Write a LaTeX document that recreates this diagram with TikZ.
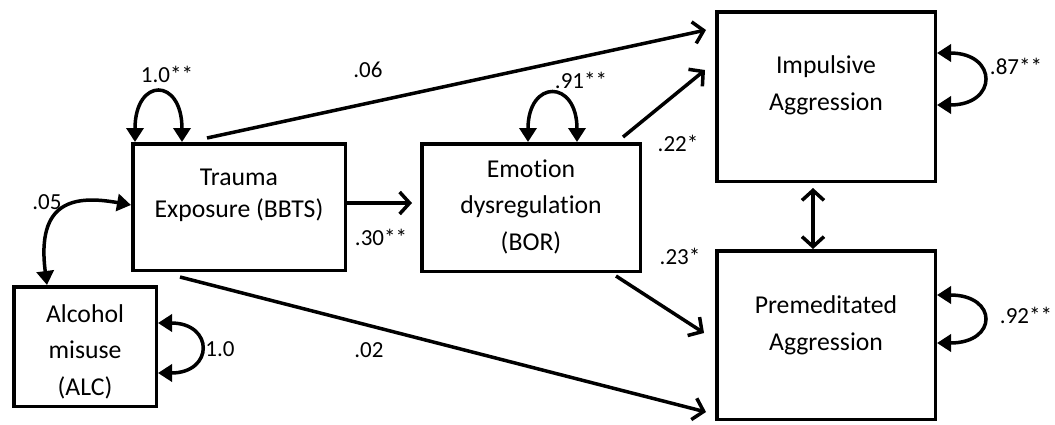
\documentclass[tikz,border=0pt]{standalone}
\usepackage{fontspec}
\setmainfont{Carlito}[Ligatures=NoCommon]
\usetikzlibrary{arrows.meta,calc}
\begin{document}
\begin{tikzpicture}[x=1pt,y=-1pt,
  box/.style={draw=black, line width=3.5pt, inner sep=0pt, rectangle},
  boxtext/.style={align=center, anchor=base, inner sep=0pt, font=\fontsize{25.7}{36.5}\selectfont},
  lab/.style={font=\fontsize{23}{27}\selectfont, inner sep=0pt},
  regarrow/.style={line width=3.5pt, -{Straight Barb[length=10pt,width=22pt]}},
  dblarrow/.style={line width=3.5pt, {Straight Barb[length=10pt,width=22pt]}-{Straight Barb[length=10pt,width=22pt]}},
  covarrow/.style={line width=3.5pt, {Triangle[length=14pt,width=17pt]}-{Triangle[length=14pt,width=17pt]}}
]
\useasboundingbox (0,0) rectangle (1055,424);

% boxes
\node[box, minimum width=212.5pt, minimum height=126.5pt] (trauma) at (239,207) {};
\node[box, minimum width=142.5pt, minimum height=119.5pt] (alcohol) at (85,346.5) {};
\node[box, minimum width=218.5pt, minimum height=127.5pt] (emotion) at (531,207.5) {};
\node[box, minimum width=218.5pt, minimum height=169.5pt] (impulsive) at (826,96.5) {};
\node[box, minimum width=218.5pt, minimum height=168.5pt] (premeditated) at (826,335) {};

% box texts (base anchor = baseline of last line)
\node[boxtext, font=\fontsize{25.7}{32}\selectfont] (traumaT) at (239,217) {Trauma\\Exposure (BBTS)};
\node[boxtext] (alcoholT) at (85,395) {Alcohol\\misuse\\(ALC)};
\node[boxtext] (emotionT) at (531,250) {Emotion\\dysregulation\\(BOR)};
\node[boxtext] (impulsiveT) at (826,110) {Impulsive\\Aggression};
\node[boxtext] (premeditatedT) at (826,350) {Premeditated\\Aggression};

% regression paths
\draw[regarrow] ([xshift=-32pt,yshift=4pt]trauma.north) -- ([xshift=-9pt,yshift=-20pt]impulsive.north west);
\draw[regarrow] ([yshift=4pt]trauma.east) -- ([xshift=-8pt,yshift=4.5pt]emotion.west);
\draw[regarrow] ([xshift=-59pt,yshift=-5pt]trauma.south) -- ([xshift=-9pt,yshift=9pt]premeditated.south west);
\draw[regarrow] ([xshift=-19pt,yshift=5pt]emotion.north east) -- ([xshift=-10pt,yshift=-60pt]impulsive.north west);
\draw[regarrow] ([xshift=-26pt,yshift=-3pt]emotion.south east) -- ([xshift=-11pt,yshift=2pt]premeditated.west);
\draw[dblarrow] ([xshift=-13pt,yshift=-5pt]impulsive.south) -- ([xshift=-13pt]premeditated.north);

% variances and covariance
\draw[covarrow] ([xshift=4pt]trauma.north west) .. controls +(0,-65) and +(0,-65) .. ([xshift=51pt]trauma.north west);
\draw[covarrow] ([xshift=108pt]emotion.north west) .. controls +(0,-63) and +(0,-63) .. ([xshift=157pt]emotion.north west);
\draw[covarrow] ([yshift=-43pt]impulsive.north east) .. controls +(61,0) and +(61,0) .. ([yshift=-95pt]impulsive.north east);
\draw[covarrow] ([yshift=-46pt]premeditated.north east) .. controls +(61,0) and +(61,0) .. ([yshift=-94pt]premeditated.north east);
\draw[covarrow] ([yshift=-38pt]alcohol.north east) .. controls +(56,0) and +(56,0) .. ([yshift=-88pt]alcohol.north east);
\draw[covarrow] ([xshift=-38pt]alcohol.north) .. controls +(-11,-85) and +(-56,-10) .. ([yshift=2pt]trauma.west);

% labels
\node[lab] (l10a) at (167,74) {1.0**};
\node[lab] (l06) at (368,70) {.06};
\node[lab] (l91) at (581,80) {.91**};
\node[lab] (l22) at (678,143) {.22*};
\node[lab] (l30) at (381,237) {.30**};
\node[lab] (l23) at (680,256) {.23*};
\node[lab] (l02) at (369,350) {.02};
\node[lab] (l05) at (47,202) {.05};
\node[lab] (l10b) at (220,349) {1.0};
\node[lab] (l87) at (1016,66) {.87**};
\node[lab] (l92) at (1026,315) {.92**};
\end{tikzpicture}
\end{document}
